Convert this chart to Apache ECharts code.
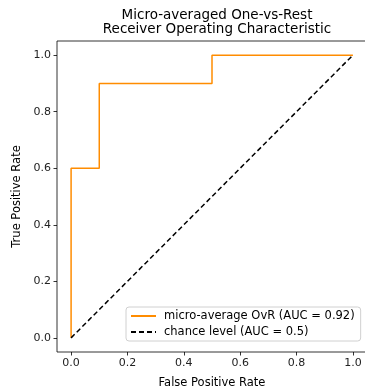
<!DOCTYPE html>
<html>
<head>
<meta charset="utf-8">
<script src="https://cdn.jsdelivr.net/npm/echarts@6/dist/echarts.min.js"></script>
<style>
  html, body { margin: 0; padding: 0; background: #fff; }
  #chart { width: 365px; height: 390px; }
</style>
</head>
<body>
<div id="chart"></div>
<script>
// roc curve points (fpr, tpr)
var fpr = [0, 0, 0.1, 0.1, 0.5, 0.5, 1];
var tpr = [0, 0.6, 0.6, 0.9, 0.9, 1.0, 1.0];
var chanceX = [0, 1];
var chanceY = [0, 1];
var tickValues = [0, 0.2, 0.4, 0.6, 0.8, 1.0];
var rocName = 'micro-average OvR (AUC = 0.92)';
var chanceName = 'chance level (AUC = 0.5)';

var font = 'DejaVu Sans';
var chart = echarts.init(document.getElementById('chart'), null, { renderer: 'canvas' });

function axisCommon(name) {
  return {
    type: 'value',
    min: -0.05,
    max: 1.05,
    name: name,
    nameLocation: 'middle',
    nameTextStyle: { fontFamily: font, fontSize: 11.5, color: '#000' },
    axisLine: { show: false, onZero: false },
    axisTick: { show: true, length: 3.5, customValues: tickValues, lineStyle: { color: '#000', width: 0.8 } },
    axisLabel: {
      customValues: tickValues,
      fontFamily: font, fontSize: 11, color: '#222', margin: 6,
      formatter: function (v) { return v.toFixed(1); }
    },
    splitLine: { show: false }
  };
}

var xAxis = axisCommon('False Positive Rate');
xAxis.nameGap = 25;
var yAxis = axisCommon('True Positive Rate');
yAxis.nameGap = 31;

var option = {
  animation: false,
  backgroundColor: '#fff',
  title: {
    text: 'Micro-averaged One-vs-Rest\nReceiver Operating Characteristic',
    left: 212,
    textAlign: 'center',
    top: 4,
    textStyle: { fontFamily: font, fontSize: 13.5, fontWeight: 'normal', color: '#000', lineHeight: 13.5 }
  },
  grid: {
    left: 57, top: 41, width: 310, height: 311,
    outerBoundsMode: 'none',
    containLabel: false,
    show: true, borderColor: '#000', borderWidth: 0.8, backgroundColor: 'transparent'
  },
  xAxis: xAxis,
  yAxis: yAxis,
  legend: {
    orient: 'vertical',
    left: 126, top: 307,
    itemWidth: 25, itemHeight: 14, itemGap: 4,
    padding: [3, 6, 3, 4],
    itemStyle: { opacity: 0 },
    backgroundColor: 'rgba(255,255,255,0.8)',
    borderColor: '#d0d0d0', borderWidth: 1, borderRadius: 3,
    textStyle: { fontFamily: font, fontSize: 11.5, color: '#000', padding: [0, 0, 0, 3] },
    data: [rocName, chanceName]
  },
  series: [
    {
      name: rocName,
      type: 'line',
      symbol: 'none',
      data: fpr.map(function (x, i) { return [x, tpr[i]]; }),
      lineStyle: { color: '#ff8c00', width: 1.5 },
      itemStyle: { color: '#ff8c00' }
    },
    {
      name: chanceName,
      type: 'line',
      symbol: 'none',
      data: chanceX.map(function (x, i) { return [x, chanceY[i]]; }),
      lineStyle: { color: '#000', width: 1.5, type: [5, 3] },
      itemStyle: { color: '#000' }
    }
  ]
};

chart.setOption(option);
</script>
</body>
</html>
